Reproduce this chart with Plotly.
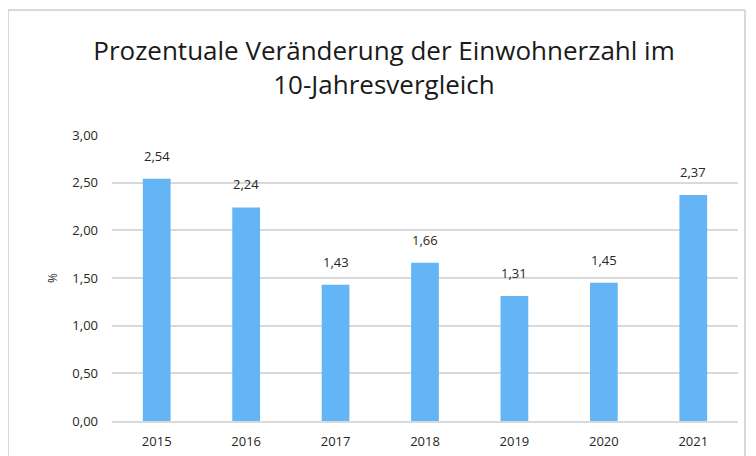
import plotly.graph_objects as go

years = ["2015", "2016", "2017", "2018", "2019", "2020", "2021"]
values = [2.54, 2.24, 1.43, 1.66, 1.31, 1.45, 2.37]
title_lines = ["Prozentuale Veränderung der Einwohnerzahl im", "10-Jahresvergleich"]
y_ticks = [0, 0.5, 1.0, 1.5, 2.0, 2.5, 3.0]

FONT = "Open Sans"
W, H = 756, 456
OFF = 8  # page body margin
L, T = 112 - OFF, 135 - OFF
R, B = W - (738 - OFF), H - (421 - OFF)
pw, ph = W - L - R, H - T - B

fig = go.Figure(go.Bar(
    x=years, y=values,
    marker=dict(color="#64b5f6", line=dict(width=0)),
    hoverinfo="x+y",
))

for i, v in enumerate(values):
    fig.add_annotation(x=i, y=v, text=f"{v:.2f}".replace(".", ","), showarrow=False,
                       yanchor="bottom", yshift=12,
                       font=dict(family=FONT, size=13, color="#262626"))

fig.update_layout(
    width=W, height=H,
    margin=dict(l=L, r=R, t=T, b=B),
    paper_bgcolor="white", plot_bgcolor="white",
    separators=",.",
    bargap=0.69,
    showlegend=False,
    font=dict(family=FONT, color="#262626"),
    title=dict(text="<br>".join(title_lines), x=(384 - OFF) / W, xanchor="center",
               y=1 - (60 - OFF) / H, yanchor="middle",
               font=dict(family=FONT, size=26, color="#1a1a1a")),
    xaxis=dict(type="category", categoryorder="array", categoryarray=years,
               range=[-0.5, len(years) - 0.5],
               showgrid=False, showline=True, linecolor="#d9d9d9", linewidth=2,
               ticks="", ticklabelstandoff=7,
               tickfont=dict(family=FONT, size=13, color="#262626")),
    yaxis=dict(range=[0, 3.0], tickvals=y_ticks, tickformat=".2f",
               showgrid=True, gridcolor="#d9d9d9", gridwidth=2, zeroline=False,
               showline=False, ticks="", ticklabelstandoff=13,
               tickfont=dict(family=FONT, size=13, color="#262626"),
               title=dict(text="%", standoff=12, font=dict(family=FONT, size=12, color="#262626"))),
)

x0 = (8 - OFF - L) / pw
x1 = (745 - OFF - L) / pw
yt = (H - B - (10 - OFF)) / ph
fig.add_shape(type="line", xref="paper", yref="paper", x0=x0, x1=x1, y0=yt, y1=yt,
              line=dict(color="#d9d9d9", width=2))
fig.add_shape(type="line", xref="paper", yref="paper", x0=x0, x1=x0, y0=yt, y1=-0.3,
              line=dict(color="#d9d9d9", width=2))
fig.add_shape(type="line", xref="paper", yref="paper", x0=x1, x1=x1, y0=yt, y1=-0.3,
              line=dict(color="#d9d9d9", width=2))

fig.write_html("out.html")
